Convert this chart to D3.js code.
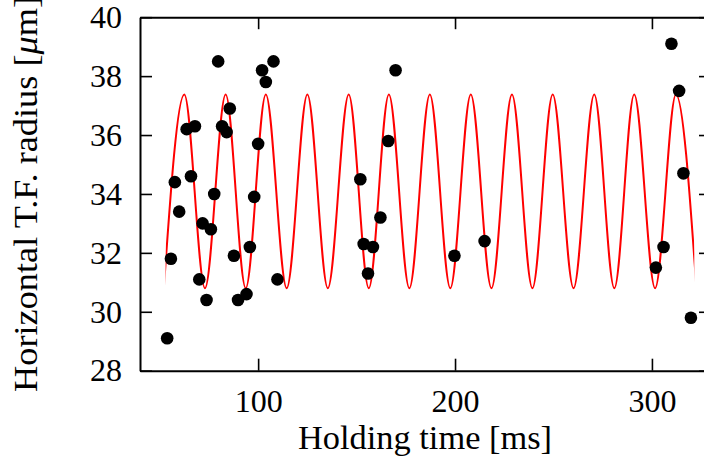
<!DOCTYPE html>
<html>
<head>
<meta charset="utf-8">
<script src="https://cdn.jsdelivr.net/npm/d3@7"></script>
<style>
  html, body { margin: 0; padding: 0; background: #fff; overflow: hidden; }
  svg text { font-family: "Liberation Serif", "DejaVu Serif", serif !important; fill: #000; }
</style>
</head>
<body>
<svg id="chart" width="704" height="464"></svg>
<script>
// Measured data points (holding time in ms, radius in µm)
const pointTimes = [53.8, 55.7, 57.7, 59.9, 63.7, 65.9, 67.9, 70.1, 71.8, 73.8,
  76.0, 77.7, 79.7, 81.7, 84.0, 85.6, 87.7, 89.8, 94.1, 95.8,
  98.0, 100.0, 102.0, 103.9, 107.8, 109.8, 151.9, 153.6, 155.8, 158.3,
  162.1, 166.1, 169.8, 199.7, 215.0, 302.0, 305.9, 309.9, 313.8, 316.0, 319.8];
const pointRadii = [29.1, 31.8, 34.4, 33.4, 36.2, 34.6, 36.3, 31.1, 33.0, 30.4,
  32.8, 34.0, 38.5, 36.3, 36.1, 36.9, 31.9, 30.4, 30.6, 32.2,
  33.9, 35.7, 38.2, 37.8, 38.5, 31.1, 34.5, 32.3, 31.3, 32.2,
  33.2, 35.8, 38.2, 31.9, 32.4, 31.5, 32.2, 39.1, 37.5, 34.7, 29.8];

// Fit curve: its successive extrema (trough, peak, trough, ...)
const fitTimes = [52.1, 62.5, 73.0, 83.5, 93.7, 103.9, 114.5, 125.0, 135.4, 146.0,
  156.2, 166.4, 176.8, 187.2, 197.6, 208.0, 218.5, 228.9, 239.3, 249.6,
  260.2, 270.7, 280.9, 291.0, 301.6, 312.2, 322.6];
const fitValues = [30.8, 37.38, 30.8, 37.38, 30.8, 37.38, 30.8, 37.38, 30.8, 37.38,
  30.8, 37.38, 30.8, 37.38, 30.8, 37.38, 30.8, 37.38, 30.8, 37.38,
  30.8, 37.38, 30.8, 37.38, 30.8, 37.38, 30.8];
const fitRange = [53.0, 321.5];

const xTicks = [100, 200, 300];
const yTicks = [28, 30, 32, 34, 36, 38, 40];
const xDomain = [40, 330];
const yDomain = [28, 40];

const svg = d3.select("#chart");
const mLeft = 140, mRight = 711, mTop = 17.2, mBottom = 370.7;

const x = d3.scaleLinear().domain(xDomain).range([mLeft, mRight]);
const y = d3.scaleLinear().domain(yDomain).range([mBottom, mTop]);

// Fit curve
svg.append("clipPath").attr("id", "fitclip")
  .append("rect")
  .attr("x", x(fitRange[0])).attr("y", 0)
  .attr("width", x(fitRange[1]) - x(fitRange[0])).attr("height", 464);

const fitData = fitTimes.map((t, i) => [t, fitValues[i]]);
const line = d3.line().x(d => x(d[0])).y(d => y(d[1])).curve(d3.curveMonotoneX);
svg.append("path")
  .datum(fitData)
  .attr("clip-path", "url(#fitclip)")
  .attr("d", line)
  .attr("fill", "none")
  .attr("stroke", "#ff0000")
  .attr("stroke-width", 2);

// Points
svg.append("g").selectAll("circle")
  .data(pointTimes.map((t, i) => [t, pointRadii[i]]))
  .join("circle")
  .attr("cx", d => x(d[0]))
  .attr("cy", d => y(d[1]))
  .attr("r", 6.3)
  .attr("fill", "#000");

// Axes
const tickLen = 12;
const axB = svg.append("g").attr("transform", `translate(0,${mBottom})`)
  .call(d3.axisBottom(x).tickValues(xTicks).tickSizeInner(-tickLen).tickSizeOuter(0).tickPadding(22));
const axT = svg.append("g").attr("transform", `translate(0,${mTop})`)
  .call(d3.axisTop(x).tickValues(xTicks).tickSizeInner(-tickLen).tickSizeOuter(0).tickFormat(""));
const axL = svg.append("g").attr("transform", `translate(${mLeft},0)`)
  .call(d3.axisLeft(y).tickValues(yTicks).tickSizeInner(-tickLen).tickSizeOuter(0).tickPadding(18));
const axR = svg.append("g").attr("transform", `translate(${mRight},0)`)
  .call(d3.axisRight(y).tickValues(yTicks).tickSizeInner(-tickLen).tickSizeOuter(0).tickFormat(""));

[axB, axT, axL, axR].forEach(g => {
  g.attr("font-family", null);
  g.selectAll(".domain").attr("stroke", "#000").attr("stroke-width", 2);
  g.selectAll(".tick line").attr("stroke", "#000").attr("stroke-width", 1.6);
  g.selectAll(".tick text").attr("font-size", 32).attr("fill", "#000");
});
axB.selectAll(".tick text").attr("dy", "0.6em");

// Axis titles
svg.append("text")
  .attr("x", (mLeft + mRight) / 2 - 0.5)
  .attr("y", 449)
  .attr("text-anchor", "middle")
  .attr("font-size", 33)
  .attr("textLength", 254)
  .attr("lengthAdjust", "spacingAndGlyphs")
  .text("Holding time [ms]");

const yl = svg.append("text")
  .attr("transform", `translate(37,${(mTop + mBottom) / 2}) rotate(-90)`)
  .attr("text-anchor", "middle")
  .attr("font-size", 33)
  .attr("textLength", 396)
  .attr("lengthAdjust", "spacingAndGlyphs");
yl.append("tspan").text("Horizontal T.F. radius [");
yl.append("tspan").attr("font-style", "italic").text("\u03bc");
yl.append("tspan").text("m]");
</script>
</body>
</html>
